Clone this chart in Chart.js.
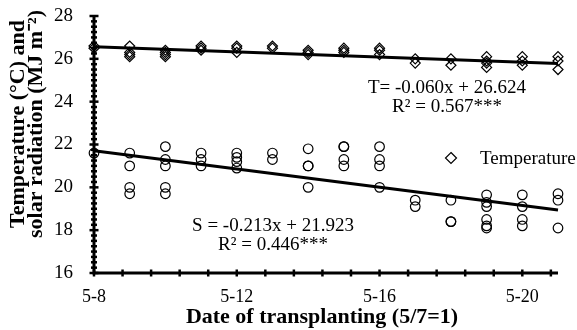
<!DOCTYPE html>
<html>
<head>
<meta charset="utf-8">
<script src="https://cdn.jsdelivr.net/npm/chart.js@4.4.1/dist/chart.umd.min.js"></script>
<style>
  html, body { margin: 0; padding: 0; background: #fff; }
  canvas { display: block; }
</style>
</head>
<body>
<canvas id="c" width="577" height="330"></canvas>
<script>
// Transplanting dates (day index 1 = first date on the axis)
const dates = ['5-8','5-9','5-10','5-11','5-12','5-13','5-14','5-15','5-16','5-17','5-18','5-19','5-20','5-21'];

// Daily mean temperature (°C) for each transplanting date
const temperature = [
  [26.6, 26.5],
  [26.6, 26.3, 26.2, 26.1],
  [26.4, 26.3, 26.2, 26.1],
  [26.6, 26.5, 26.4],
  [26.6, 26.5, 26.3],
  [26.6, 26.5],
  [26.4, 26.3, 26.2],
  [26.5, 26.4, 26.3],
  [26.5, 26.4, 26.2],
  [26.0, 25.8],
  [26.0, 25.7],
  [26.1, 25.9, 25.8, 25.6],
  [26.1, 25.9, 25.7],
  [26.1, 25.9, 25.5]
];

// Solar radiation (MJ m-2) for each transplanting date
const radiation = [
  [21.6],
  [21.6, 21.0, 20.0, 19.7],
  [21.9, 21.3, 21.0, 20.0, 19.7],
  [21.6, 21.3, 21.0],
  [21.6, 21.4, 21.2, 20.9],
  [21.6, 21.3],
  [21.8, 21.0, 21.0, 20.0],
  [21.9, 21.9, 21.3, 21.0],
  [21.9, 21.3, 21.0, 20.0],
  [19.4, 19.1],
  [19.4, 18.4, 18.4],
  [19.65, 19.3, 19.1, 18.5, 18.2, 18.1],
  [19.65, 19.1, 18.5, 18.2],
  [19.7, 19.4, 18.1]
];

// Linear fits
const tSlope = -0.060, tIntercept = 26.624, tR2 = '0.567';
const sSlope = -0.213, sIntercept = 21.923, sR2 = '0.446';

// Axis tick labels
const yTickLabels = [16, 18, 20, 22, 24, 26, 28];
const xTickLabels = ['5-8', '5-12', '5-16', '5-20'];

const FONT = '"Liberation Serif", "Times New Roman", serif';

function toPoints(groups) {
  const pts = [];
  groups.forEach((vals, i) => vals.forEach(v => pts.push({ x: i + 1, y: v })));
  return pts;
}
function fitLine(slope, intercept) {
  const x0 = 1, x1 = dates.length;
  return [{ x: x0, y: slope * x0 + intercept }, { x: x1, y: slope * x1 + intercept }];
}
function fmtEq(slope, intercept) {
  return slope.toFixed(3) + 'x + ' + intercept.toFixed(3);
}

const xMin = 1, xMax = dates.length, xMinor = 0.8;
const yMin = yTickLabels[0], yMax = yTickLabels[yTickLabels.length - 1], yMinor = 0.25;

// Axis lines with ticks crossing both sides, equation labels, legend and axis titles
const decor = {
  id: 'decor',
  beforeDatasetsDraw(chart) {
    const { ctx, chartArea: a, scales: { x, y } } = chart;
    ctx.save();
    ctx.strokeStyle = '#000';
    ctx.lineWidth = 3;
    ctx.beginPath();
    ctx.moveTo(a.left, a.top);
    ctx.lineTo(a.left, a.bottom);
    ctx.lineTo(a.right, a.bottom);
    ctx.stroke();
    ctx.lineWidth = 2.5;
    y.ticks.forEach(t => {
      const py = y.getPixelForValue(t.value);
      const h = t.label !== '' ? 4.5 : 3;
      ctx.beginPath(); ctx.moveTo(a.left - h, py); ctx.lineTo(a.left + h, py); ctx.stroke();
    });
    x.ticks.forEach(t => {
      const px = x.getPixelForValue(t.value);
      const h = 3.5;
      ctx.beginPath(); ctx.moveTo(px, a.bottom - h); ctx.lineTo(px, a.bottom + h); ctx.stroke();
    });
    ctx.restore();
  },
  afterDraw(chart) {
    const { ctx } = chart;
    ctx.save();
    ctx.fillStyle = '#000';
    ctx.textBaseline = 'middle';
    ctx.textAlign = 'center';
    ctx.font = '19px ' + FONT;
    ctx.fillText('T= ' + fmtEq(tSlope, tIntercept), 447, 88);
    ctx.fillText('R\u00B2 = ' + tR2 + '***', 447, 107);
    ctx.fillText('S = ' + fmtEq(sSlope, sIntercept), 273, 226);
    ctx.fillText('R\u00B2 = ' + sR2 + '***', 273, 245);

    // legend
    ctx.textAlign = 'left';
    ctx.fillText('Temperature', 480, 159);
    ctx.strokeStyle = '#000';
    ctx.lineWidth = 1.2;
    const lx = 451, ly = 158, r = 5.5;
    ctx.beginPath();
    ctx.moveTo(lx, ly - r); ctx.lineTo(lx + r, ly); ctx.lineTo(lx, ly + r); ctx.lineTo(lx - r, ly);
    ctx.closePath(); ctx.stroke();

    // axis titles
    ctx.font = 'bold 22px ' + FONT;
    ctx.textAlign = 'center';
    ctx.fillText('Date of transplanting (5/7=1)', 322, 317);
    ctx.save();
    ctx.translate(18, 124);
    ctx.rotate(-Math.PI / 2);
    ctx.fillText('Temperature (\u00B0C) and', 0, 0);
    ctx.restore();
    ctx.save();
    ctx.translate(36, 124);
    ctx.rotate(-Math.PI / 2);
    ctx.fillText('solar radiation (MJ m\u207B\u00B2)', 0, 0);
    ctx.restore();
    ctx.restore();
  }
};

new Chart(document.getElementById('c'), {
  type: 'scatter',
  data: {
    datasets: [
      {
        label: 'Temperature',
        data: toPoints(temperature),
        pointStyle: 'rectRot',
        pointRadius: 5,
        borderColor: '#000',
        backgroundColor: 'rgba(0,0,0,0)',
        borderWidth: 1.2,
        clip: false
      },
      {
        label: 'Solar radiation',
        data: toPoints(radiation),
        pointStyle: 'circle',
        pointRadius: 4.8,
        borderColor: '#000',
        backgroundColor: 'rgba(0,0,0,0)',
        borderWidth: 1.2,
        clip: false
      },
      {
        type: 'line',
        label: 'T fit',
        data: fitLine(tSlope, tIntercept),
        borderColor: '#000',
        borderWidth: 3,
        pointRadius: 0,
        fill: false,
        clip: false
      },
      {
        type: 'line',
        label: 'S fit',
        data: fitLine(sSlope, sIntercept),
        borderColor: '#000',
        borderWidth: 3,
        pointRadius: 0,
        fill: false,
        clip: false
      }
    ]
  },
  options: {
    responsive: false,
    animation: false,
    events: [],
    layout: { padding: { left: 0, top: 16, right: 19, bottom: 0 } },
    plugins: { legend: { display: false }, tooltip: { enabled: false } },
    scales: {
      x: {
        type: 'linear',
        min: xMin,
        max: xMax,
        afterBuildTicks(scale) {
          const ticks = [];
          for (let k = 0; xMin + k * xMinor <= xMax + 1e-9; k++) {
            ticks.push({ value: Math.round((xMin + k * xMinor) * 100) / 100 });
          }
          scale.ticks = ticks;
        },
        afterFit(scale) {
          scale.height = 57;
          scale.paddingLeft = 0; scale.paddingRight = 0;
        },
        grid: { display: false, drawTicks: false },
        border: { display: false },
        ticks: {
          autoSkip: false,
          maxRotation: 0,
          padding: 13,
          color: '#000',
          font: { family: FONT, size: 18 },
          callback(value, index) {
            return index % 5 === 0 ? xTickLabels[index / 5] : '';
          }
        }
      },
      y: {
        min: yMin,
        max: yMax,
        afterBuildTicks(scale) {
          const ticks = [];
          for (let v = yMin; v <= yMax + 1e-9; v += yMinor) ticks.push({ value: Math.round(v * 100) / 100 });
          scale.ticks = ticks;
        },
        afterFit(scale) {
          scale.width = 94;
          scale.paddingTop = 0; scale.paddingBottom = 0;
        },
        grid: { display: false, drawTicks: false },
        border: { display: false },
        ticks: {
          autoSkip: false,
          padding: 21,
          color: '#000',
          font: { family: FONT, size: 19 },
          callback(value) {
            return yTickLabels.includes(value) ? String(value) : '';
          }
        }
      }
    }
  },
  plugins: [decor]
});
</script>
</body>
</html>
